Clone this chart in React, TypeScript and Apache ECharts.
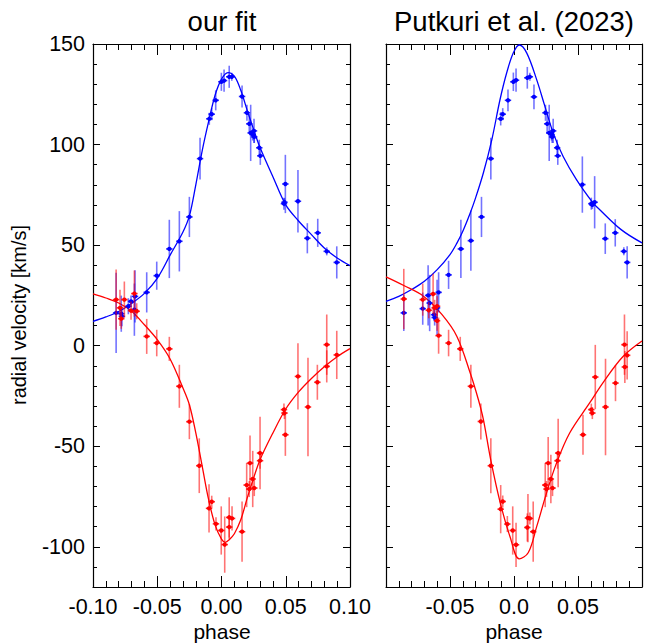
import React, { useEffect, useRef } from "react";
import * as echarts from "echarts";

// ---------- data: left panel (our fit) ----------
const leftBluePhase = [-0.082, -0.078, -0.0775, -0.0725, -0.0704, -0.0678, -0.0673, -0.0582, -0.0504, -0.0406, -0.0328, -0.025, -0.0167, -0.0095, -0.0076, -0.0045, -0.0001, 0.002, 0.006, 0.008, 0.016, 0.0198, 0.0216, 0.0227, 0.0243, 0.0253, 0.0255, 0.0294, 0.0302, 0.0486, 0.049, 0.0497, 0.0595, 0.0668, 0.0749, 0.0819, 0.0897];
const leftBlueVel = [16.3, 15.9, 14.6, 19.6, 22.0, 17.9, 24.5, 26.5, 34.8, 48.1, 51.9, 64.0, 93.0, 112.8, 115.1, 122.0, 131.2, 131.8, 133.7, 133.7, 123.9, 115.8, 110.3, 105.8, 105.0, 106.8, 103.8, 98.4, 94.4, 70.6, 71.3, 80.4, 71.8, 53.4, 56.1, 46.9, 41.4];
const leftBlueErr = [20, 9, 5, 4, 3, 13, 13, 10, 7, 14.5, 15, 10, 10.4, 3, 3, 5, 4.5, 5.5, 5.5, 2, 5.5, 4, 5, 14, 3, 6, 3, 4, 4.5, 3, 2, 14.5, 15.5, 7.5, 7, 2, 8];

const leftRedPhase = [-0.082, -0.079, -0.078, -0.0756, -0.0704, -0.0678, -0.066, -0.0582, -0.0504, -0.0406, -0.0328, -0.025, -0.0173, -0.0097, -0.0076, -0.0043, -0.0002, 0.0025, 0.006, 0.006, 0.0082, 0.016, 0.0196, 0.0216, 0.0222, 0.0243, 0.0255, 0.03, 0.03, 0.0486, 0.049, 0.0497, 0.0595, 0.0673, 0.0746, 0.0819, 0.0819, 0.0897];
const leftRedVel = [22.9, 18.8, 13.4, 22.9, 17.4, 25.9, 17.1, 4.6, 1.3, -1.6, -20.2, -37.8, -59.7, -80.9, -77.6, -88.6, -91.9, -98.9, -90.2, -85.4, -85.9, -92.5, -69.3, -71.3, -58.4, -66.3, -70.8, -53.4, -57.2, -31.8, -33.5, -44.3, -15.3, -30.5, -18.2, 0.5, -10.3, -4.6];
const leftRedErr = [15, 9, 5, 9, 4.5, 11.5, 4, 8.7, 6.6, 6, 10.7, 8.7, 13.6, 12, 3, 3.3, 12, 14, 6, 10, 6, 15, 11, 4, 13.7, 14, 4, 18, 4, 3, 3, 10.5, 16.5, 24.5, 8.7, 15, 8, 12];

const leftBlueCurvePhase = [-0.1, -0.09, -0.08, -0.07, -0.06, -0.05, -0.04, -0.03, -0.025, -0.02, -0.015, -0.01, -0.005, 0, 0.005, 0.01, 0.015, 0.02, 0.025, 0.03, 0.04, 0.05, 0.06, 0.07, 0.08, 0.09, 0.1];
const leftBlueCurveVel = [12.1, 14.3, 17, 21, 26, 33.5, 45, 56.5, 64.5, 80, 97, 111.5, 124.5, 132.5, 135.8, 134, 127, 117, 107.5, 98.5, 84, 70, 62, 55.2, 48.6, 43.6, 39.8];
const leftRedCurvePhase = [-0.1, -0.09, -0.08, -0.07, -0.06, -0.05, -0.04, -0.03, -0.025, -0.02, -0.015, -0.01, -0.005, 0, 0.003, 0.006, 0.01, 0.015, 0.02, 0.025, 0.03, 0.04, 0.05, 0.06, 0.07, 0.08, 0.09, 0.1];
const leftRedCurveVel = [25.7, 23.7, 21.2, 17.1, 10.4, 3.0, -6.6, -21.1, -29.4, -43.4, -60, -76.6, -89.1, -96.2, -97.8, -96.5, -93.5, -86.6, -75.8, -65.8, -56.7, -43.4, -31.5, -23, -16.3, -10.5, -5.5, -1.5];

// ---------- data: right panel (Putkuri et al. 2023) ----------
const rightBluePhase = [-0.0861, -0.0713, -0.0671, -0.0659, -0.0625, -0.062, -0.0601, -0.0589, -0.0511, -0.0415, -0.0337, -0.0254, -0.0181, -0.0104, -0.0088, -0.0047, -0.0005, 0.0016, 0.0104, 0.0124, 0.0156, 0.0246, 0.0259, 0.0275, 0.0293, 0.0306, 0.0298, 0.0337, 0.0342, 0.0534, 0.0604, 0.063, 0.0612, 0.0713, 0.0791, 0.0858, 0.0884];
const rightBlueVel = [16.3, 18.4, 25.0, 21.2, 15.4, 14.0, 18.8, 26.5, 35.2, 48.1, 52.2, 64.0, 93.0, 112.8, 115.1, 122.0, 131.2, 132.0, 133.2, 133.7, 123.7, 115.8, 110.3, 105.8, 105.0, 106.8, 103.8, 98.4, 94.4, 80.1, 70.6, 71.3, 70.0, 53.2, 56.1, 46.9, 41.4];
const rightBlueErr = [9, 8, 15, 14, 3, 4, 14, 10, 7, 14.5, 15, 10, 10.4, 3.3, 3, 5.4, 4.6, 5.8, 5.4, 2, 6.2, 4, 5, 14, 3, 6, 3, 4, 4.5, 14, 3, 13, 2, 7.6, 6.8, 2, 8];

const rightRedPhase = [-0.0861, -0.0713, -0.0666, -0.0632, -0.062, -0.0601, -0.0601, -0.0589, -0.0511, -0.042, -0.0337, -0.0259, -0.0181, -0.0104, -0.0088, -0.0052, -0.001, 0.0016, 0.0104, 0.0109, 0.0124, 0.015, 0.0244, 0.0254, 0.0267, 0.0288, 0.0301, 0.0345, 0.034, 0.0539, 0.0604, 0.0612, 0.0635, 0.0715, 0.0793, 0.0863, 0.0866, 0.0884];
const rightRedVel = [23.2, 22.9, 17.6, 25.7, 18.8, 19.6, 12.4, 5.0, 1.3, -1.6, -20.2, -37.7, -59.7, -81.3, -77.5, -88.7, -91.9, -99.0, -90.4, -85.7, -85.9, -92.5, -69.3, -71.3, -58.4, -66.3, -70.8, -53.4, -57.2, -44.3, -31.8, -33.5, -15.6, -30.5, -18.6, 0.5, -10.6, -4.8];
const rightRedErr = [15, 8, 4, 10, 4, 5, 5, 9, 6.6, 6, 10.7, 9, 13.7, 12, 3, 4, 12, 11, 7, 12, 3, 15, 11, 4, 13, 12, 4, 17, 4, 10, 3, 3, 16, 24, 9, 15, 8, 12];

const rightBlueCurvePhase = [-0.1, -0.09, -0.08, -0.07, -0.06, -0.05, -0.0446, -0.04, -0.0342, -0.03, -0.0239, -0.0173, -0.0109, -0.0057, -0.0005, 0.0041, 0.0099, 0.0177, 0.0241, 0.0306, 0.0383, 0.0488, 0.0617, 0.0656, 0.0837, 0.1];
const rightBlueCurveVel = [22, 24.5, 27.9, 32, 37.8, 45.3, 51, 56.9, 66, 73.5, 86, 102.5, 122.4, 135.7, 145.6, 149.5, 145.6, 132.3, 119.1, 105.8, 94.2, 82.6, 71, 68.5, 57.7, 51.1];
const rightRedCurvePhase = [-0.1, -0.0861, -0.0705, -0.0562, -0.0446, -0.0342, -0.0278, -0.0239, -0.0181, -0.0104, -0.0031, 0.0041, 0.0111, 0.0177, 0.0254, 0.0332, 0.0435, 0.0591, 0.07, 0.085, 0.1];
const rightRedCurveVel = [34.2, 29.9, 24.5, 15.4, 4.6, -13.6, -26.9, -36.8, -57, -79, -95, -106, -103, -90, -73.3, -58.4, -43.4, -28.5, -18, -5.5, 2.3];

const MAJOR_Y = [-100, -50, 0, 50, 100, 150];
const X_HALF_ERR = 0.0025;
const BLUE = "#0000ff";
const RED = "#ff0000";
const FONT = "Liberation Sans, Arial, sans-serif";

const zip3 = (a: number[], b: number[], c: number[]) => a.map((v, i) => [v, b[i], c[i]]);
const zip2 = (a: number[], b: number[]) => a.map((v, i) => [v, b[i]]);

const makeRender = (color: string) => (params: any, api: any) => {
  const x = api.value(0);
  const y = api.value(1);
  const e = api.value(2);
  const c = api.coord([x, y]);
  const t = api.coord([x, y + e]);
  const b = api.coord([x, y - e]);
  const l = api.coord([x - X_HALF_ERR, y]);
  const r = api.coord([x + X_HALF_ERR, y]);
  return {
    type: "group",
    children: [
      { type: "line", shape: { x1: c[0], y1: t[1], x2: c[0], y2: b[1] }, style: { stroke: color, lineWidth: 1.6, opacity: 0.55 } },
      { type: "line", shape: { x1: l[0], y1: c[1], x2: r[0], y2: c[1] }, style: { stroke: color, lineWidth: 1.6, opacity: 0.85 } },
      { type: "circle", shape: { cx: c[0], cy: c[1], r: 2.2 }, style: { fill: color } },
    ],
  };
};

export default function App() {
  const ref = useRef<HTMLDivElement>(null);
  useEffect(() => {
    if (!ref.current) return;
    const chart = echarts.init(ref.current, undefined, { renderer: "svg" });
    const grids = [
      { left: 93, top: 44, width: 257, height: 543 },
      { left: 386, top: 44, width: 256, height: 543 },
    ];
    const axisLine = { show: true, onZero: false, lineStyle: { color: "#000", width: 1.2 } };
    const xAxes: any[] = [];
    const yAxes: any[] = [];
    grids.forEach((_, g) => {
      const fmt = g === 0
        ? (v: number) => v.toFixed(2)
        : (v: number) => (Math.abs(v) > 0.09 ? "" : Math.abs(v) < 1e-9 ? "0.0" : v.toFixed(2));
      ["bottom", "top"].forEach((pos) => {
        xAxes.push({
          type: "value", gridIndex: g, position: pos, min: -0.1, max: 0.1, interval: 0.05,
          axisLine, splitLine: { show: false },
          axisTick: { show: true, inside: true, length: 11, lineStyle: { color: "#000" } },
          minorTick: { show: true, splitNumber: 5, length: 6, lineStyle: { color: "#000" } },
          axisLabel: pos === "bottom"
            ? { show: true, formatter: fmt, fontSize: 21.5, color: "#000", fontFamily: FONT, margin: 9, showMinLabel: true, showMaxLabel: true }
            : { show: false },
        });
      });
      ["left", "right"].forEach((pos) => {
        yAxes.push({
          type: "value", gridIndex: g, position: pos, min: -120, max: 150, interval: 10,
          axisLine, splitLine: { show: false },
          axisTick: { show: true, inside: true, length: 4, lineStyle: { color: "#000" } },
          axisLabel: pos === "left" && g === 0
            ? { show: true, fontSize: 21.5, color: "#000", fontFamily: FONT, margin: 8, formatter: (v: number) => (MAJOR_Y.includes(v) ? String(v) : "") }
            : { show: false },
        });
        yAxes.push({
          type: "value", gridIndex: g, position: pos, min: -120, max: 150, interval: 10,
          axisLine: { show: false, onZero: false }, splitLine: { show: false },
          axisTick: { show: true, inside: true, length: 7, customValues: MAJOR_Y, lineStyle: { color: "#000" } },
          axisLabel: { show: false },
        });
      });
    });

    const points = [
      { g: 0, color: BLUE, data: zip3(leftBluePhase, leftBlueVel, leftBlueErr) },
      { g: 0, color: RED, data: zip3(leftRedPhase, leftRedVel, leftRedErr) },
      { g: 1, color: BLUE, data: zip3(rightBluePhase, rightBlueVel, rightBlueErr) },
      { g: 1, color: RED, data: zip3(rightRedPhase, rightRedVel, rightRedErr) },
    ];
    const curves = [
      { g: 0, color: BLUE, data: zip2(leftBlueCurvePhase, leftBlueCurveVel) },
      { g: 0, color: RED, data: zip2(leftRedCurvePhase, leftRedCurveVel) },
      { g: 1, color: BLUE, data: zip2(rightBlueCurvePhase, rightBlueCurveVel) },
      { g: 1, color: RED, data: zip2(rightRedCurvePhase, rightRedCurveVel) },
    ];
    const series: any[] = [];
    curves.forEach((c) => {
      series.push({
        type: "line", xAxisIndex: c.g * 2, yAxisIndex: c.g * 4, data: c.data,
        smooth: 0.35, showSymbol: false, symbol: "none", clip: true,
        lineStyle: { color: c.color, width: 1.3 }, z: 3,
      });
    });
    points.forEach((p) => {
      series.push({
        type: "custom", xAxisIndex: p.g * 2, yAxisIndex: p.g * 4, data: p.data,
        encode: { x: 0, y: 1 }, renderItem: makeRender(p.color), clip: true, z: 4,
      });
    });

    chart.setOption({
      animation: false,
      backgroundColor: "#fff",
      grid: grids,
      xAxis: xAxes,
      yAxis: yAxes,
      series,
      graphic: [
        { type: "text", x: 222, y: 21, style: { text: "our fit", fontSize: 27.5, fontFamily: FONT, fill: "#000", textAlign: "center", textVerticalAlign: "middle" } },
        { type: "text", x: 514, y: 21, style: { text: "Putkuri et al. (2023)", fontSize: 27.5, fontFamily: FONT, fill: "#000", textAlign: "center", textVerticalAlign: "middle" } },
        { type: "text", x: 222, y: 631, style: { text: "phase", fontSize: 21, fontFamily: FONT, fill: "#000", textAlign: "center", textVerticalAlign: "middle" } },
        { type: "text", x: 514, y: 631, style: { text: "phase", fontSize: 21, fontFamily: FONT, fill: "#000", textAlign: "center", textVerticalAlign: "middle" } },
        { type: "text", x: 19, y: 315, rotation: Math.PI / 2, style: { text: "radial velocity [km/s]", fontSize: 20, fontFamily: FONT, fill: "#000", textAlign: "center", textVerticalAlign: "middle" } },
      ],
    });
    return () => chart.dispose();
  }, []);
  return <div ref={ref} style={{ position: "absolute", left: 0, top: 0, width: 650, height: 644 }} />;
}
